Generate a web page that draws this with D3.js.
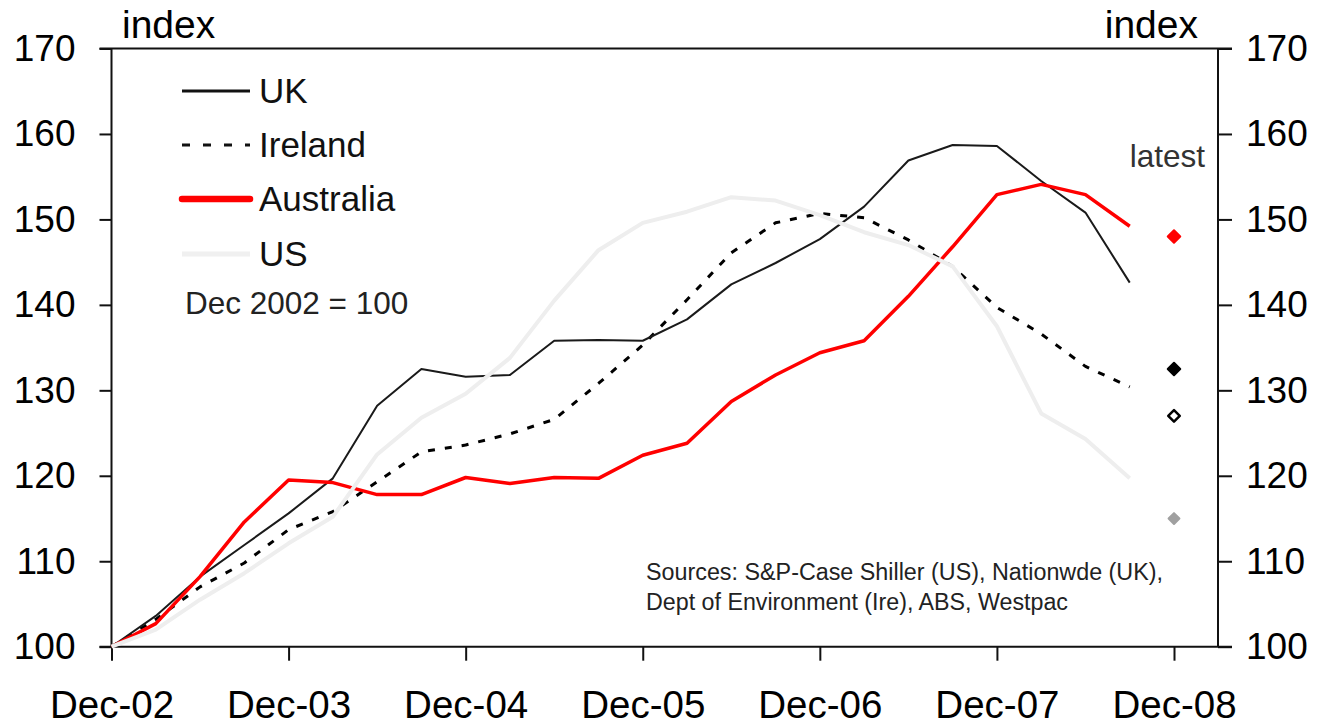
<!DOCTYPE html>
<html>
<head>
<meta charset="utf-8">
<script src="https://cdn.jsdelivr.net/npm/d3@7"></script>
<style>
  html, body { margin: 0; padding: 0; background: #fff; }
  svg { display: block; font-family: "Liberation Sans", Arial, sans-serif; }
</style>
</head>
<body>
<svg id="chart" width="1325" height="725"></svg>
<script>
// Quarterly house price indices, Dec-02 to Sep-08 (Dec 2002 = 100)
const quarters = d3.range(24);
const uk        = [100, 103.6, 108.2, 111.9, 115.6, 119.7, 128.2, 132.5, 131.6, 131.8, 135.8, 135.9, 135.8, 138.3, 142.4, 144.9, 147.7, 151.5, 156.9, 158.7, 158.6, 154.5, 150.8, 142.6];
const ireland   = [100, 103.2, 107.0, 109.8, 113.7, 115.8, 119.3, 122.8, 123.6, 124.9, 126.6, 130.8, 135.3, 140.6, 146.1, 149.6, 150.7, 150.2, 147.6, 144.5, 139.7, 136.6, 132.8, 130.4];
const australia = [100, 102.7, 108.2, 114.6, 119.5, 119.2, 117.8, 117.8, 119.8, 119.1, 119.8, 119.7, 122.4, 123.8, 128.7, 131.8, 134.4, 135.8, 141.0, 146.8, 152.9, 154.1, 152.9, 149.2];
const us        = [100, 102.0, 105.5, 108.6, 112.1, 115.2, 122.5, 126.8, 129.6, 133.8, 140.5, 146.4, 149.6, 150.9, 152.6, 152.2, 150.5, 148.5, 147.0, 144.5, 137.5, 127.3, 124.3, 119.7];

// Most recent readings, plotted at Dec-08
const latestQuarter = 24;
const latestNames  = ["Australia", "UK", "Ireland", "US"];
const latestValues = [148.0, 132.5, 127.0, 115.0];

const xTickQuarters = [0, 4, 8, 12, 16, 20, 24];
const xTickLabels   = ["Dec-02", "Dec-03", "Dec-04", "Dec-05", "Dec-06", "Dec-07", "Dec-08"];
const yTicks = [100, 110, 120, 130, 140, 150, 160, 170];

const svg = d3.select("#chart");

const plotLeft = 111.5, plotRight = 1218, plotTop = 48.5, plotBottom = 646.7;
const x = d3.scaleLinear().domain([0, 24]).range([plotLeft, 1174]);
const y = d3.scaleLinear().domain([100, 170]).range([plotBottom, plotTop]);

const ink = "#111";

// Frame: top and bottom rules run past both axes
svg.append("line").attr("x1", plotLeft - 12).attr("x2", plotRight + 14)
  .attr("y1", plotTop).attr("y2", plotTop).attr("stroke", ink).attr("stroke-width", 2);

// Left axis
const yLeft = svg.append("g").attr("transform", `translate(${plotLeft},0)`)
  .call(d3.axisLeft(y).tickValues(yTicks).tickSize(12).tickPadding(24).tickFormat(d3.format("d")));
// Right axis
const yRight = svg.append("g").attr("transform", `translate(${plotRight},0)`)
  .call(d3.axisRight(y).tickValues(yTicks).tickSize(14).tickPadding(14).tickFormat(d3.format("d")));
// Bottom axis
const xAxis = svg.append("g").attr("transform", `translate(0,${plotBottom})`)
  .call(d3.axisBottom(x).tickValues(xTickQuarters).tickSize(14).tickPadding(30)
    .tickFormat((d, i) => xTickLabels[i]));

[yLeft, yRight, xAxis].forEach(g => {
  g.select(".domain").remove();
  g.selectAll(".tick line").attr("stroke", ink).attr("stroke-width", 2);
  g.selectAll(".tick text").attr("fill", "#000").style("font-size", "37px")
    .style("font-family", "'Liberation Sans', Arial, sans-serif");
});
xAxis.selectAll(".tick text").attr("dy", "0.71em").style("font-size", "38.5px");

svg.append("line").attr("x1", plotLeft).attr("x2", plotLeft).attr("y1", plotTop).attr("y2", plotBottom)
  .attr("stroke", ink).attr("stroke-width", 2);
svg.append("line").attr("x1", plotRight).attr("x2", plotRight).attr("y1", plotTop).attr("y2", plotBottom)
  .attr("stroke", ink).attr("stroke-width", 2);
svg.append("line").attr("x1", plotLeft - 12).attr("x2", plotRight + 14).attr("y1", plotBottom).attr("y2", plotBottom)
  .attr("stroke", ink).attr("stroke-width", 2);

// Axis unit labels
svg.append("text").attr("x", 122).attr("y", 38).style("font-size", "39px").attr("fill", "#000").text("index");
svg.append("text").attr("x", 1198).attr("y", 38).attr("text-anchor", "end").style("font-size", "39px").attr("fill", "#000").text("index");

// Series
const line = d3.line().x((d, i) => x(quarters[i])).y(d => y(d));
const series = [
  { name: "Ireland",   values: ireland,   color: "#000",    width: 3,   dash: "7,10" },
  { name: "UK",        values: uk,        color: "#1a1a1a", width: 2,   dash: null },
  { name: "Australia", values: australia, color: "#ff0000", width: 3.5, dash: null },
  { name: "US",        values: us,        color: "#eeeeee", width: 4,   dash: null }
];
series.forEach(s => {
  svg.append("path").datum(s.values)
    .attr("d", line)
    .attr("fill", "none")
    .attr("stroke", s.color)
    .attr("stroke-width", s.width)
    .attr("stroke-linejoin", "round")
    .attr("stroke-dasharray", s.dash);
});

// Latest markers
const markerStyle = {
  Australia: { fill: "#ff0000", stroke: "#ff0000", size: 100, sw: 2 },
  UK:        { fill: "#000",    stroke: "#000",    size: 100, sw: 2 },
  Ireland:   { fill: "#fff",    stroke: "#000",    size: 85,  sw: 2.5 },
  US:        { fill: "#a0a0a0", stroke: "#a0a0a0", size: 75,  sw: 2 }
};
latestNames.forEach((n, i) => {
  const st = markerStyle[n];
  svg.append("path")
    .attr("d", d3.symbol(d3.symbolDiamond2, st.size)())
    .attr("transform", `translate(${x(latestQuarter)},${y(latestValues[i])})`)
    .attr("fill", st.fill).attr("stroke", st.stroke).attr("stroke-width", st.sw)
    .attr("stroke-linejoin", "round");
});
svg.append("text").attr("x", 1205).attr("y", 167).attr("text-anchor", "end")
  .style("font-size", "31.5px").attr("fill", "#333").text("latest");

// Legend
const legendY = [91, 145, 199, 254];
const legendItems = [
  { name: "UK",        color: "#111",    width: 3,   dash: null },
  { name: "Ireland",   color: "#111",    width: 3,   dash: "8,13" },
  { name: "Australia", color: "#ff0000", width: 6.5, dash: null },
  { name: "US",        color: "#f0f0f0", width: 5,   dash: null }
];
legendItems.forEach((it, i) => {
  svg.append("line").attr("x1", 182).attr("x2", 250)
    .attr("y1", legendY[i]).attr("y2", legendY[i])
    .attr("stroke", it.color).attr("stroke-width", it.width)
    .attr("stroke-linecap", it.name === "Australia" ? "round" : "butt")
    .attr("stroke-dasharray", it.dash);
  svg.append("text").attr("x", 259).attr("y", legendY[i] + 12)
    .style("font-size", "35px").attr("fill", "#111").text(it.name);
});
svg.append("text").attr("x", 185).attr("y", 314).style("font-size", "31.5px").attr("fill", "#222")
  .text("Dec 2002 = 100");

// Sources note
const sources = ["Sources: S&P-Case Shiller (US), Nationwde (UK),", "Dept of Environment (Ire), ABS, Westpac"];
const sourceWidths = [517, 422];
sources.forEach((t, i) => {
  svg.append("text").attr("x", 646).attr("y", 580 + i * 30)
    .style("font-size", "23px").attr("fill", "#222")
    .attr("textLength", sourceWidths[i]).attr("lengthAdjust", "spacingAndGlyphs")
    .text(t);
});
</script>
</body>
</html>
